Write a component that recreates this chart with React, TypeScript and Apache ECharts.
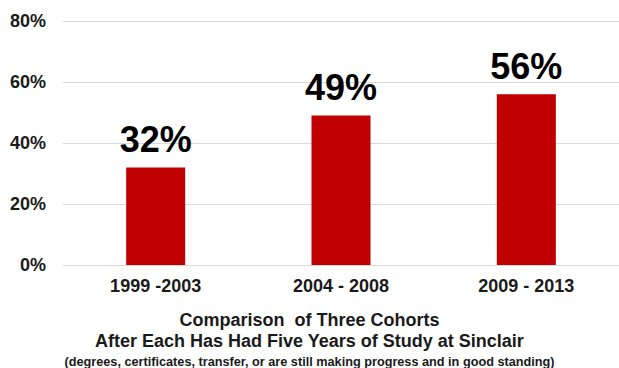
import React, { useEffect, useRef } from "react";
import * as echarts from "echarts";

const categories = ["1999 -2003", "2004 - 2008", "2009 - 2013"];
const values = [32, 49, 56];
const yTicks = [0, 20, 40, 60, 80];
const titleLines = [
  "Comparison  of Three Cohorts",
  "After Each Has Had Five Years of Study at Sinclair",
  "(degrees, certificates, transfer, or are still making progress and in good standing)",
];

const FONT = "'Liberation Sans', Arial, sans-serif";

export default function App() {
  const ref = useRef<HTMLDivElement>(null);
  useEffect(() => {
    if (!ref.current) return;
    const chart = echarts.init(ref.current, null, { renderer: "svg" });
    chart.setOption({
      animation: false,
      backgroundColor: "#ffffff",
      grid: { left: 63, top: 21, width: 565, height: 244 },
      xAxis: {
        type: "category",
        data: categories,
        axisLine: { show: true, lineStyle: { color: "#d9d9d9", width: 1 } },
        axisTick: { show: false },
        axisLabel: {
          color: "#1a1a1a",
          fontFamily: FONT,
          fontWeight: "bold",
          fontSize: 18,
          margin: 12,
        },
      },
      yAxis: {
        type: "value",
        min: yTicks[0],
        max: yTicks[yTicks.length - 1],
        interval: 20,
        axisLine: { show: false },
        axisTick: { show: false },
        splitLine: { lineStyle: { color: "#d9d9d9", width: 1 } },
        axisLabel: {
          color: "#1a1a1a",
          fontFamily: FONT,
          fontWeight: "bold",
          fontSize: 18,
          margin: 17,
          formatter: (v: number) => v + "%",
        },
      },
      series: [
        {
          type: "bar",
          data: values,
          barWidth: 59,
          itemStyle: { color: "#c00000" },
          label: {
            show: true,
            position: "top",
            distance: 10,
            formatter: (p: any) => p.value + "%",
            color: "#000000",
            fontFamily: FONT,
            fontWeight: "bold",
            fontSize: 36,
          },
        },
      ],
      graphic: [
        {
          type: "text",
          left: "center",
          top: 311,
          style: {
            text: titleLines[0],
            fill: "#1a1a1a",
            font: `bold 18px ${FONT}`,
          },
        },
        {
          type: "text",
          left: "center",
          top: 332,
          style: {
            text: titleLines[1],
            fill: "#1a1a1a",
            font: `bold 18px ${FONT}`,
          },
        },
        {
          type: "text",
          left: "center",
          top: 355,
          style: {
            text: titleLines[2],
            fill: "#1a1a1a",
            font: `bold 12.7px ${FONT}`,
          },
        },
      ],
    });
    return () => chart.dispose();
  }, []);
  return <div ref={ref} style={{ width: 619, height: 368, position: "absolute", left: 0, top: 0 }} />;
}
